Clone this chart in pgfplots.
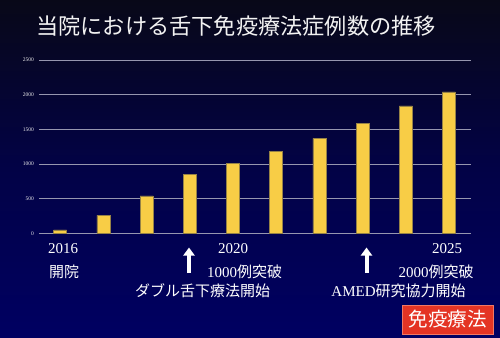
\documentclass[border=0pt]{standalone}
\usepackage{fontspec}
\setmainfont{Liberation Serif}
\newfontfamily\cjk{Noto Sans CJK JP}
\usepackage{pgfplots}
\pgfplotsset{compat=1.18}
\usetikzlibrary{arrows.meta}
\definecolor{bartop}{RGB}{8,8,24}
\definecolor{barbot}{RGB}{0,0,98}
\definecolor{baryellow}{RGB}{248,205,70}
\definecolor{baredge}{RGB}{150,130,70}
\definecolor{gridc}{RGB}{150,150,175}
\definecolor{redbox}{RGB}{228,52,36}
\begin{document}
\begin{tikzpicture}[x=1pt,y=1pt]
\shade[top color=bartop, bottom color=barbot, middle color={rgb,255:red,2;green,2;blue,70}] (0,0) rectangle (500,-337);
\useasboundingbox (0,0) rectangle (500,-337);
\begin{axis}[
  at={(39pt,-233.3pt)}, anchor=south west,
  scale only axis, width=432pt, height=173.3pt,
  xmin=-0.49, xmax=9.51, ymin=0, ymax=2500,
  ytick={0,500,...,2500}, xtick=\empty,
  ymajorgrids, grid style={color=gridc, line width=0.7pt},
  axis line style={draw=none},
  major tick length=0pt,
  yticklabel style={font=\fontsize{5.5}{6}\selectfont, color=white!85!gray, xshift=-1.5pt},
  /pgf/number format/assume math mode=true,
  /pgf/number format/1000 sep={},
  ybar, bar width=13pt,
  clip=false,
]
\addplot[fill=baryellow, draw=baredge, line width=0.5pt] coordinates {
(0,50) (1,260) (2,540) (3,845) (4,1005) (5,1180) (6,1370) (7,1585) (8,1840) (9,2040)};
\end{axis}
\node[text=white!90!gray, anchor=west, inner sep=0pt, font=\cjk\fontsize{22.2}{24}\selectfont] at (36,-26) {当院における舌下免疫療法症例数の推移};
\begin{scope}[every node/.style={text=white, font=\fontsize{15}{17}\selectfont, inner sep=0pt}]
\node[anchor=west] at (48,-249) {2016};
\node[anchor=west] at (49,-272) {\cjk 開院};
\node at (233,-249) {2020};
\node at (244.5,-272) {1000{\cjk 例突破}};
\node at (202.5,-291) {\cjk ダブル舌下療法開始};
\node at (447,-249) {2025};
\node at (436,-272) {2000{\cjk 例突破}};
\node at (398.5,-291) {AMED{\cjk 研究協力開始}};
\end{scope}
\draw[white, line width=4pt, -{Triangle[width=11pt,length=8pt]}] (189,-273) -- (189,-247.5);
\draw[white, line width=4pt, -{Triangle[width=11pt,length=8pt]}] (366.5,-273) -- (366.5,-247.5);
\node[fill=redbox, draw={rgb,255:red,240;green,120;blue,100}, line width=0.5pt, text=white, font=\cjk\fontsize{19.5}{21}\selectfont, minimum width=91pt, minimum height=29pt, inner sep=0pt] at (447.5,-319.5) {免疫療法};
\end{tikzpicture}
\end{document}
